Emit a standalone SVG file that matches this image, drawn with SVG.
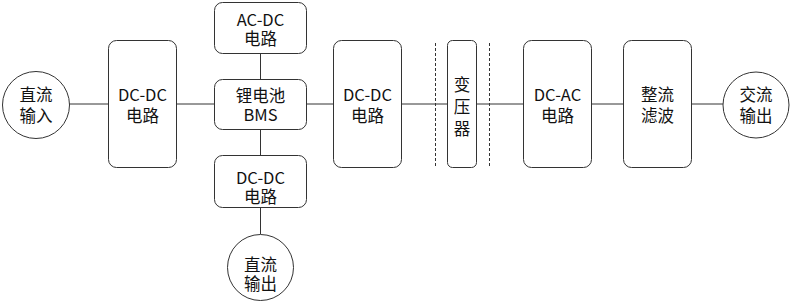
<svg xmlns="http://www.w3.org/2000/svg" width="795" height="303" viewBox="0 0 795 303">
<style>
.box{fill:#fff;stroke:#333;stroke-width:1}
.ln{fill:none;stroke:#333;stroke-width:1}
.dash{fill:none;stroke:#333;stroke-width:1;stroke-dasharray:3,2}
text{font-family:"Noto Sans CJK SC","Noto Sans",sans-serif;font-size:16.5px;fill:#111;text-anchor:middle;dominant-baseline:central}
</style>
<rect width="795" height="303" fill="#fff"/>
<g id="connectors">
<line class="ln" x1="69" y1="104" x2="108" y2="104"/>
<line class="ln" x1="176" y1="104" x2="214" y2="104"/>
<line class="ln" x1="307" y1="104" x2="333" y2="104"/>
<line class="ln" x1="401" y1="104" x2="448" y2="104"/>
<line class="ln" x1="476" y1="104" x2="523" y2="104"/>
<line class="ln" x1="591" y1="104" x2="623" y2="104"/>
<line class="ln" x1="691" y1="104" x2="723" y2="104"/>
<line class="ln" x1="260.5" y1="53" x2="260.5" y2="80"/>
<line class="ln" x1="260.5" y1="129" x2="260.5" y2="155"/>
<line class="ln" x1="260.5" y1="208" x2="260.5" y2="234"/>
<line class="dash" x1="435.5" y1="43" x2="435.5" y2="168"/>
<line class="dash" x1="489.5" y1="43" x2="489.5" y2="168"/>
</g>
<g id="dc-in">
<circle class="box" cx="36" cy="105" r="33.5"/>
<text x="36" y="94">直流<tspan x="36" dy="21">输入</tspan></text>
</g>
<g id="dcdc1">
<rect class="box" x="108.5" y="40.5" width="68" height="127" rx="8"/>
<text x="142.5" y="94">DC-DC<tspan x="142.5" dy="21">电路</tspan></text>
</g>
<g id="acdc">
<rect class="box" x="214.5" y="2.5" width="92" height="51" rx="8"/>
<text x="260.5" y="19">AC-DC<tspan x="260.5" dy="19">电路</tspan></text>
</g>
<g id="bms">
<rect class="box" x="214.5" y="79.5" width="92" height="50" rx="8"/>
<text x="260.5" y="95">锂电池<tspan x="260.5" dy="19">BMS</tspan></text>
</g>
<g id="dcdc2">
<rect class="box" x="214.5" y="155.5" width="92" height="52" rx="8"/>
<text x="260.5" y="177">DC-DC<tspan x="260.5" dy="19">电路</tspan></text>
</g>
<g id="dc-out">
<circle class="box" cx="260.5" cy="267.5" r="33"/>
<text x="260.5" y="264">直流<tspan x="260.5" dy="19">输出</tspan></text>
</g>
<g id="dcdc3">
<rect class="box" x="333.5" y="40.5" width="68" height="127" rx="8"/>
<text x="367.5" y="94">DC-DC<tspan x="367.5" dy="21">电路</tspan></text>
</g>
<g id="transformer">
<rect class="box" x="447.5" y="40.5" width="29" height="127" rx="5"/>
<text x="462" y="84">变<tspan x="462" dy="22">压</tspan><tspan x="462" dy="22">器</tspan></text>
</g>
<g id="dcac">
<rect class="box" x="523.5" y="40.5" width="68" height="127" rx="8"/>
<text x="557.5" y="94">DC-AC<tspan x="557.5" dy="21">电路</tspan></text>
</g>
<g id="filter">
<rect class="box" x="623.5" y="40.5" width="68" height="127" rx="8"/>
<text x="657.5" y="94">整流<tspan x="657.5" dy="21">滤波</tspan></text>
</g>
<g id="ac-out">
<circle class="box" cx="756" cy="105" r="33"/>
<text x="756" y="94">交流<tspan x="756" dy="21">输出</tspan></text>
</g>
</svg>
